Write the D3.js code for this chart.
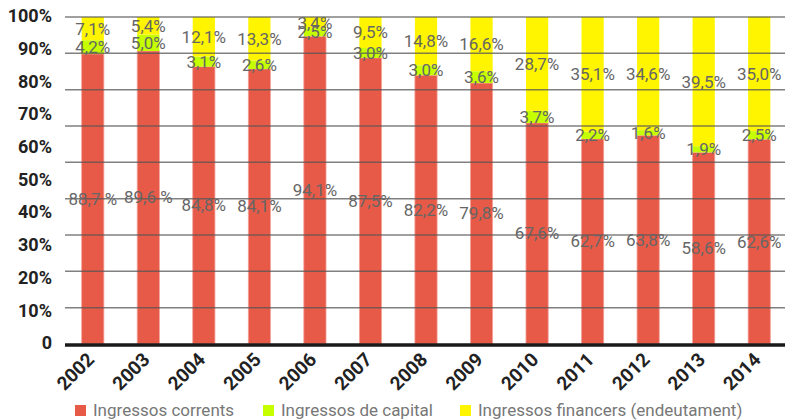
<!DOCTYPE html>
<html><head><meta charset="utf-8">
<script src="https://cdn.jsdelivr.net/npm/d3@7"></script>
<style>body{margin:0;background:#fff}svg{display:block;font-family:Roboto,sans-serif}</style>
</head><body><svg id="c" width="785" height="420"></svg>
<script>
const years = ["2002","2003","2004","2005","2006","2007","2008","2009","2010","2011","2012","2013","2014"];
const corrents = [88.7,89.6,84.8,84.1,94.1,87.5,82.2,79.8,67.6,62.7,63.8,58.6,62.6];
const capital = [4.2,5.0,3.1,2.6,2.5,3.0,3.0,3.6,3.7,2.2,1.6,1.9,2.5];
const financers = [7.1,5.4,12.1,13.3,3.4,9.5,14.8,16.6,28.7,35.1,34.6,39.5,35.0];
const correntsLabels = ["88,7 %","89,6 %","84,8%","84,1%","94,1%","87,5%","82,2%","79,8%","67,6%","62,7%","63,8%","58,6%","62,6%"];
const yTicks = [0,10,20,30,40,50,60,70,80,90,100];
const seriesNames = ["Ingressos corrents","Ingressos de capital","Ingressos financers (endeutament)"];
const colors = ["#e85a48","#c6ff00","#fff500"];

const svg = d3.select("#c");
const x = d3.scaleBand().domain(years).range([65,787]).paddingInner(0.6).paddingOuter(0.3);
const y = d3.scaleLinear().domain([0,100]).range([344,17]);
const fmt = v => v.toFixed(1).replace(".", ",") + "%";

const rows = years.map((yr,i)=>({year:yr, corrents:corrents[i], capital:capital[i], financers:financers[i]}));
const stack = d3.stack().keys(["corrents","capital","financers"])(rows);

const g = svg.append("g");
stack.forEach((s,si)=>{
  g.selectAll(null).data(s).enter().append("rect")
    .attr("x", d=>x(d.data.year)).attr("width", x.bandwidth())
    .attr("y", d=>y(d[1])).attr("height", d=>y(d[0])-y(d[1]))
    .attr("fill", colors[si])
    .attr("stroke", si===0 ? "#f4a49c" : "none").attr("stroke-width", 0.8);
});

// gridlines (9 intervals)
const grid = d3.range(0,10).map(k=>k*100/9);
svg.append("g").selectAll("line").data(grid.slice(1)).enter().append("line")
  .attr("x1",65).attr("x2",785).attr("y1",d=>y(d)).attr("y2",d=>y(d))
  .attr("stroke","#555").attr("stroke-opacity",0.75).attr("stroke-width",1.5);
svg.append("line").attr("x1",65).attr("x2",785).attr("y1",345).attr("y2",345)
  .attr("stroke","#1a1a1a").attr("stroke-width",3.5);

// y labels
const yAxis = d3.axisLeft(y).tickValues(yTicks).tickSize(0).tickPadding(0)
  .tickFormat(d=> d===0 ? "0" : d+"%");
const ya = svg.append("g").attr("transform","translate(52,-1)").call(yAxis);
ya.select(".domain").remove();
ya.selectAll("text").attr("font-size",18).attr("font-weight","bold").attr("fill","#222").attr("font-family","Roboto");

// x labels
const xAxis = d3.axisBottom(x).tickSize(0).tickPadding(0);
const xa = svg.append("g").attr("transform","translate(0,350)").call(xAxis);
xa.select(".domain").remove();
xa.selectAll("text").attr("font-size",19).attr("font-weight","bold").attr("fill","#222")
  .attr("font-family","Roboto")
  .attr("text-anchor","end").attr("dy","0.35em")
  .attr("transform","translate(-2,6) rotate(-45)");

// value labels
const lbl = svg.append("g").attr("font-size",17).attr("fill","#666").attr("text-anchor","middle");
stack.forEach((s,si)=>{
  lbl.selectAll(null).data(s).enter().append("text")
    .attr("x", d=>x(d.data.year)+x.bandwidth()/2)
    .attr("y", d=>y((d[0]+d[1])/2)).attr("dy","0.35em")
    .text((d,i)=> si===0 ? correntsLabels[i] : fmt(d[1]-d[0]));
});

// legend
const legX = [75,263,460];
const lg = svg.append("g");
seriesNames.forEach((n,i)=>{
  lg.append("rect").attr("x",legX[i]).attr("y",405).attr("width",11).attr("height",11).attr("fill",colors[i]);
  lg.append("text").attr("x",legX[i]+18).attr("y",410).attr("dy","0.35em")
    .attr("font-size",17).attr("fill","#777").text(n);
});
</script></body></html>
